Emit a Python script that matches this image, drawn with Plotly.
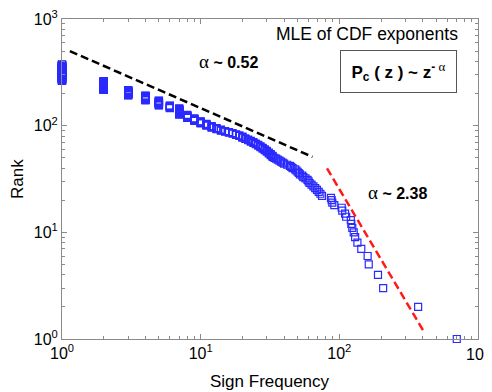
import numpy as np
import plotly.graph_objects as go

# Distinct sign frequencies (descending) and how many signs share each frequency
sign_freq = [703, 370, 207, 190, 163, 160, 144, 135, 130, 127, 124, 122, 121, 112, 110,
             105, 104, 92, 89, 88, 87, 75, 73, 71, 69, 67, 65, 63, 61, 60, 59, 57, 55,
             54, 52, 51, 50, 49, 48, 46, 45, 44, 42, 40, 39, 38, 37, 36, 35, 34,
             33, 32, 31, 30, 29, 28, 27, 26, 25, 24, 23, 22, 21, 20, 19, 18, 17, 16,
             15, 14, 13, 12, 11, 10, 9, 8, 7, 6, 5, 4, 3, 2, 1]
n_signs = [1] * 50 + [2, 2, 2, 2, 2, 2, 2, 2, 2, 2, 2, 2, 2, 3, 2, 2, 2, 2, 2, 3, 3, 4,
                      5, 6, 7, 9, 19, 9, 18, 19, 24, 47, 112]

# Rank-frequency points: each sign gets its rank
freq_per_rank = np.repeat(sign_freq, n_signs)
rank = np.arange(1, len(freq_per_rank) + 1)

# Power-law fit segments (endpoints)
fit_low_x = [1.14, 64]
fit_low_y = [500, 51]
fit_high_x = [81.5, 409]
fit_high_y = [39.8, 1.16]

tick_vals = [1, 10, 100, 1000]
tick_text = ["10<sup>0</sup>", "10<sup>1</sup>", "10<sup>2</sup>", "10<sup>3</sup>"]
minor_vals = [m * 10 ** k for k in range(3) for m in range(2, 10)]

FONT = "Liberation Sans, Arial, sans-serif"
GREY = "#8a8a8a"
ALPHA = "<span style='font-family:Liberation Serif, serif; font-size:19px'>α</span>"
ALPHA_SUP = "<span style='font-family:Liberation Serif, serif; font-size:13px'>α</span>"

# page body has an 8px default margin, so the figure is sized to fit 492x392 with it
fig = go.Figure()
fig.add_trace(go.Scatter(
    x=freq_per_rank, y=rank, mode="markers", cliponaxis=False,
    marker=dict(symbol="square-open", size=7, color="#2a2aff", line=dict(width=1.2)),
    showlegend=False))
fig.add_trace(go.Scatter(
    x=fit_low_x, y=fit_low_y, mode="lines",
    line=dict(color="black", width=2.5, dash="8px,4px"), showlegend=False))
fig.add_trace(go.Scatter(
    x=fit_high_x, y=fit_high_y, mode="lines",
    line=dict(color="#ff1a1a", width=2.5, dash="8px,4px"), showlegend=False))

axis_common = dict(
    type="log", range=[0, 3], showline=True, linecolor=GREY, linewidth=1,
    mirror="allticks", ticks="inside", ticklen=5, tickcolor=GREY, tickwidth=1,
    tickmode="array", tickvals=tick_vals,
    showgrid=False, zeroline=False, automargin=False, ticklabeloverflow="allow",
    tickfont=dict(family=FONT, size=16, color="black"),
    minor=dict(tickmode="array", tickvals=minor_vals, ticks="inside", ticklen=3,
               tickcolor=GREY, showgrid=False),
)

fig.update_layout(
    width=484, height=384,
    margin=dict(l=54, r=14, t=11, b=53),
    paper_bgcolor="white", plot_bgcolor="white",
    # last x label is drawn as an annotation (plotly drops it at the div edge)
    xaxis=dict(**axis_common, ticktext=tick_text[:-1] + [""]),
    yaxis=dict(**axis_common, ticktext=tick_text),
)

fig.add_annotation(x=np.log10(tick_vals[-1]), xref="x", yref="paper", y=-(353 - 339) / 320,
                   text=tick_text[-1], showarrow=False, xanchor="center", yanchor="middle",
                   font=dict(family=FONT, size=16, color="black"))

# Axis titles
fig.add_annotation(xref="paper", yref="paper", x=(270 - 62) / 416, y=-(381 - 339) / 320,
                   text="Sign Frequency", showarrow=False, xanchor="center", yanchor="middle",
                   font=dict(family=FONT, size=17, color="black"))
fig.add_annotation(xref="paper", yref="paper", x=-(62 - 17) / 416, y=(339 - 179) / 320,
                   text="Rank", textangle=-90, showarrow=False, xanchor="center",
                   yanchor="middle", font=dict(family=FONT, size=17, color="black"))

fig.add_annotation(x=2.87, y=2.855, xref="x", yref="y", text="MLE of CDF exponents",
                   showarrow=False, xanchor="right", yanchor="middle",
                   font=dict(family=FONT, size=17.5, color="black"))
fig.add_annotation(x=1.204, y=2.597, xref="x", yref="y",
                   text=ALPHA + "<b> ~ 0.52</b>",
                   showarrow=False, xanchor="center", yanchor="middle",
                   font=dict(family=FONT, size=16, color="black"))
fig.add_annotation(x=2.419, y=1.378, xref="x", yref="y",
                   text=ALPHA + "<b> ~ 2.38</b>",
                   showarrow=False, xanchor="center", yanchor="middle",
                   font=dict(family=FONT, size=16, color="black"))
fig.add_annotation(x=2.427, y=2.508, xref="x", yref="y",
                   text="<b>P<sub>c</sub> ( z ) ~ z<sup>- </sup></b><sup>" + ALPHA_SUP + "</sup>",
                   showarrow=False, xanchor="center", yanchor="middle",
                   width=111, height=37, bordercolor="#555555", borderwidth=1, borderpad=2,
                   bgcolor="white",
                   font=dict(family=FONT, size=17, color="black"))

fig.write_html("out.html")
